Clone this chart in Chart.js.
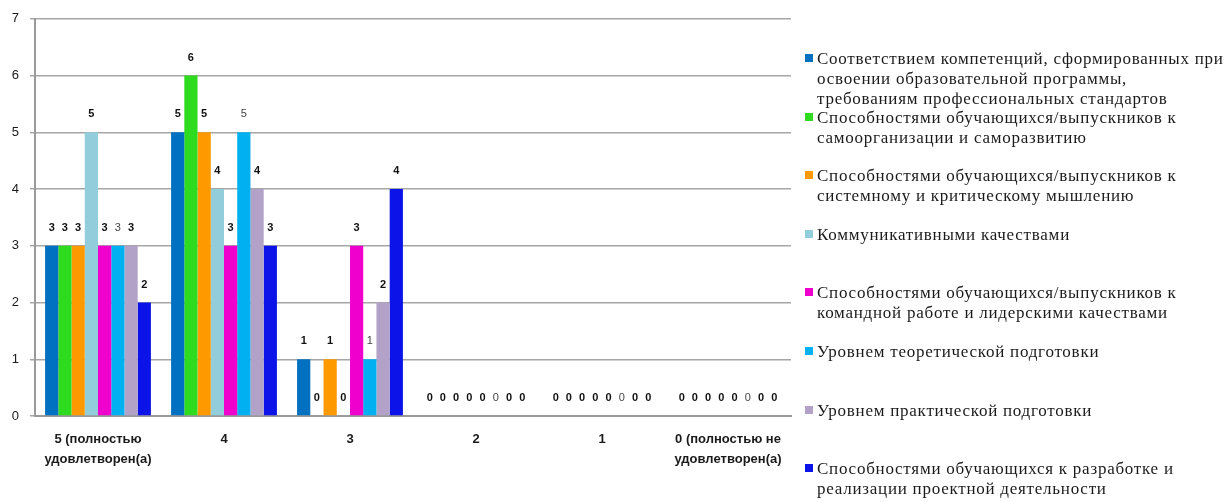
<!DOCTYPE html>
<html lang="ru">
<head>
<meta charset="utf-8">
<title>Удовлетворенность</title>
<script src="https://cdn.jsdelivr.net/npm/chart.js@4.4.1/dist/chart.umd.min.js"></script>
<style>
  html, body { margin: 0; padding: 0; background: #fff; }
  #wrap { position: relative; width: 1231px; height: 502px; overflow: hidden; }
  #chartBox { position: absolute; left: 0; top: 0; width: 795px; height: 502px; }
  #legend { position: absolute; left: 0; top: 0; width: 1231px; height: 502px; pointer-events: none; }
  .lg-item { position: absolute; left: 805px; font-family: "Liberation Serif", "Times New Roman", serif;
             font-size: 17px; letter-spacing: 0.75px; line-height: 20px; color: #1a1a1a; white-space: nowrap; }
  .lg-box { position: absolute; left: 0; top: 5px; width: 8px; height: 8px; }
  .lg-text { margin-left: 12px; }
</style>
</head>
<body>
<div id="wrap">
  <div id="chartBox"><canvas id="chart"></canvas></div>
  <div id="legend"></div>
</div>
<script>
// categories (x axis)
const categories = [
  ["5 (полностью", "удовлетворен(а)"],
  "4",
  "3",
  "2",
  "1",
  ["0 (полностью не", "удовлетворен(а)"]
];

// series names (legend, with manual line breaks as in original)
const seriesNames = [
  ["Соответствием компетенций, сформированных при", "освоении образовательной программы,", "требованиям профессиональных стандартов"],
  ["Способностями обучающихся/выпускников к", "самоорганизации и саморазвитию"],
  ["Способностями обучающихся/выпускников к", "системному и критическому мышлению"],
  ["Коммуникативными качествами"],
  ["Способностями обучающихся/выпускников к", "командной работе и лидерскими качествами"],
  ["Уровнем теоретической подготовки"],
  ["Уровнем практической подготовки"],
  ["Способностями обучающихся к разработке и", "реализации проектной деятельности"]
];

// values per series, one per category
const competencies = [3, 5, 1, 0, 0, 0];
const selfOrganization = [3, 6, 0, 0, 0, 0];
const criticalThinking = [3, 5, 1, 0, 0, 0];
const communication = [5, 4, 0, 0, 0, 0];
const teamwork = [3, 3, 3, 0, 0, 0];
const theory = [3, 5, 1, 0, 0, 0];
const practice = [3, 4, 2, 0, 0, 0];
const projects = [2, 3, 4, 0, 0, 0];

const seriesValues = [competencies, selfOrganization, criticalThinking, communication, teamwork, theory, practice, projects];
const seriesColors = ["#0070C0", "#2EDB1E", "#FF9900", "#92CDDC", "#F000CC", "#00B0F0", "#B2A2C7", "#0B13E8"];
const yTicks = [0, 1, 2, 3, 4, 5, 6, 7];

// build HTML legend
const legendEl = document.getElementById("legend");
seriesNames.forEach((lines, i) => {
  const item = document.createElement("div");
  item.className = "lg-item";
  item.style.top = (49 + i * 58.6) + "px";
  const box = document.createElement("span");
  box.className = "lg-box";
  box.style.background = seriesColors[i];
  const txt = document.createElement("div");
  txt.className = "lg-text";
  txt.innerHTML = lines.join("<br>");
  item.appendChild(box);
  item.appendChild(txt);
  legendEl.appendChild(item);
});

// value labels above bars
const valueLabels = {
  id: "valueLabels",
  afterDatasetsDraw(chart) {
    const ctx = chart.ctx;
    ctx.save();
    ctx.textAlign = "center";
    ctx.textBaseline = "middle";
    chart.data.datasets.forEach((ds, di) => {
      const meta = chart.getDatasetMeta(di);
      const light = di === 5;
      ctx.font = (light ? "" : "bold ") + "11px 'Liberation Sans Narrow', 'Arial Narrow', Arial, sans-serif";
      ctx.fillStyle = light ? "#444" : "#111";
      meta.data.forEach((bar, i) => {
        ctx.fillText(String(ds.data[i]), bar.x, bar.y - 18);
      });
    });
    ctx.restore();
  }
};

new Chart(document.getElementById("chart"), {
  type: "bar",
  data: {
    labels: categories,
    datasets: seriesValues.map((vals, i) => ({
      label: seriesNames[i].join(" "),
      data: vals,
      backgroundColor: seriesColors[i],
      borderWidth: 0,
      barPercentage: 1.0,
      categoryPercentage: 0.84
    }))
  },
  options: {
    responsive: true,
    maintainAspectRatio: false,
    animation: false,
    layout: { padding: { top: 18, right: 4, left: 0, bottom: 0 } },
    plugins: { legend: { display: false }, tooltip: { enabled: false } },
    scales: {
      x: {
        grid: { display: false },
        border: { display: true, color: "#9a9a9a", width: 2 },
        ticks: {
          color: "#1a1a1a",
          padding: 5,
          maxRotation: 0,
          autoSkip: false,
          font: { family: "Arial, 'Liberation Sans', sans-serif", size: 13, weight: "bold", lineHeight: 1.55 }
        },
        afterFit(scale) { scale.height = 86; }
      },
      y: {
        min: 0,
        max: 7,
        afterBuildTicks(scale) { scale.ticks = yTicks.map(v => ({ value: v })); },
        grid: { color: "#a6a6a6", lineWidth: 1.5, tickLength: 5 },
        border: { display: true, color: "#9a9a9a", width: 2 },
        ticks: {
          color: "#1a1a1a",
          padding: 11,
          font: { family: "Arial, 'Liberation Sans', sans-serif", size: 13 }
        },
        afterFit(scale) { scale.width = 35; }
      }
    }
  },
  plugins: [valueLabels]
});
</script>
</body>
</html>
